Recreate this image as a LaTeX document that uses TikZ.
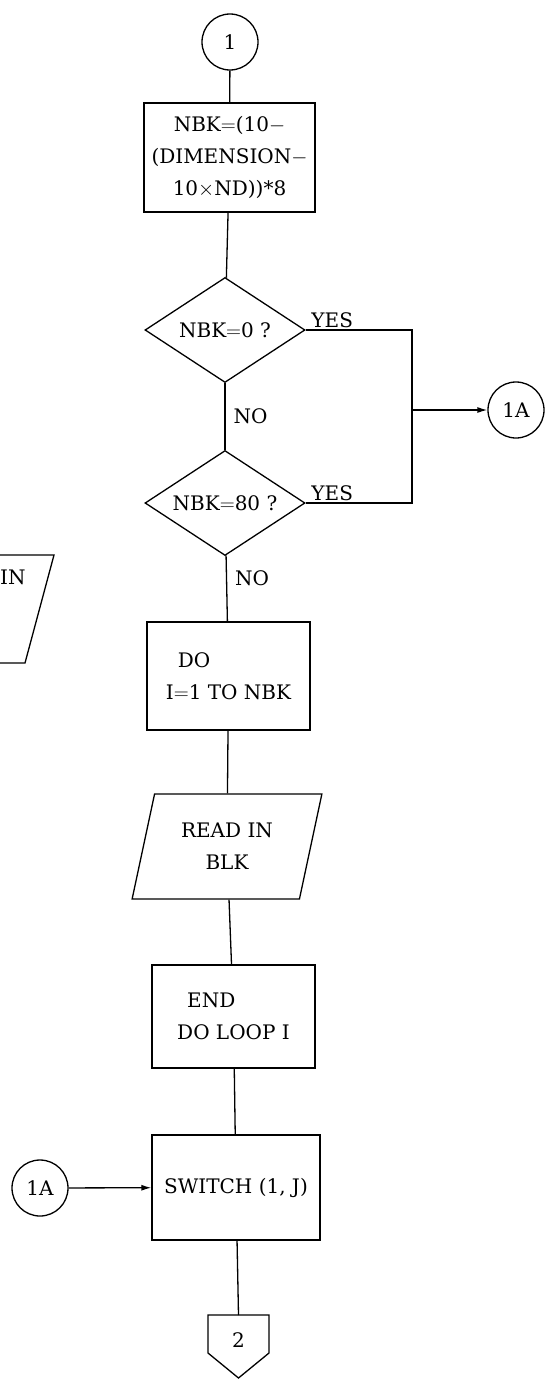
\documentclass[tikz,border=0pt]{standalone}
\usepackage{fontspec}
\setmainfont{DejaVu Serif}
\usepackage{tikz}
\usetikzlibrary{shapes.geometric,arrows.meta,positioning,calc}
\newcommand{\chartfont}{\fontsize{20}{32}\selectfont}

\begin{document}
\begin{tikzpicture}[x=1pt, y=-1pt,
    block/.style={rectangle, draw, line width=1.3pt, minimum width=165pt, minimum height=106pt, inner sep=2pt, align=center, font=\chartfont},
    decision/.style={diamond, draw, line width=1.3pt, aspect=1.5, minimum width=160pt, minimum height=105pt, inner sep=1pt, font=\chartfont},
    io/.style={trapezium, trapezium left angle=74, trapezium right angle=106, trapezium stretches=true, draw, line width=1.3pt, minimum width=190pt, minimum height=105pt, align=center, font=\chartfont},
    conn/.style={circle, draw, line width=1.3pt, minimum size=56pt, inner sep=0pt, font=\chartfont},
    lbl/.style={inner sep=2pt, font=\chartfont},
    line/.style={draw, line width=1.3pt},
    arrow/.style={draw, line width=1.3pt, -{Latex[length=10pt,width=6pt]}}]
    \useasboundingbox (0,0) rectangle (553,1389);

    % main column
    \node [conn] (start) at (230,42) {1};
    \node [block, minimum width=171pt, minimum height=109pt] (calcnbk) at (229.5,157.5) {NBK$=$(10$-$\\(DIMENSION$-$\\10$\times$ND))*8};
    \node [decision] (iszero) at (225,330) {NBK$=$0 ?};
    \node [decision] (iseighty) at (225,503) {NBK$=$80 ?};
    \node [block, minimum width=163pt, minimum height=108pt, align=left] (doloop) at (228.5,676) {\hspace*{12pt}DO\\I$=$1 TO NBK};
    \node [io] (readblk) at (227,846.5) {READ IN\\BLK};
    \node [block, minimum width=163pt, minimum height=103pt, align=left] (enddo) at (233.5,1016.5) {\hspace*{10pt}END\\DO LOOP I};
    \node [block, minimum width=168pt, minimum height=105pt] (switch) at (236,1187.5) {SWITCH (1, J)};

    % connectors
    \node [conn] (outA) at (516,410) {1A};
    \node [conn] (inA) at (40,1188) {1A};
    \coordinate (merge) at (412,410);
    \coordinate (offtop) at (238.5,1315);
    \draw [line] (208,1315) -- (269,1315) -- (269,1353) -- (238.5,1378) -- (208,1353) -- cycle;
    \node [lbl] (offtwo) at (238.5,1340) {2};

    % piece of the next chart at the left edge
    \draw [line] (0,555) -- (54,555) -- (25,663) -- (0,663);
    \node [lbl, anchor=west, inner sep=0pt] (edgetext) at (0,577) {IN};

    \draw [line] (start) -- (calcnbk);
    \draw [line] (calcnbk) -- (iszero);
    \draw [line] (iszero) -- node [lbl, right=6pt] {NO} (iseighty);
    \draw [line] (iseighty) -- node [lbl, pos=.35, right=6pt] {NO} (doloop);
    \draw [line] (doloop) -- (readblk);
    \draw [line] (readblk) -- (enddo);
    \draw [line] (enddo) -- (switch);
    \draw [line] (switch) -- (offtop);

    \draw [line] (iszero.east) -- node [lbl, pos=.25, above] {YES} (iszero.east -| merge)
        -- (iseighty.east -| merge) -- node [lbl, pos=.75, above] {YES} (iseighty.east);
    \draw [arrow] (merge) -- (outA);
    \draw [arrow] (inA) -- (switch);
\end{tikzpicture}
\end{document}
